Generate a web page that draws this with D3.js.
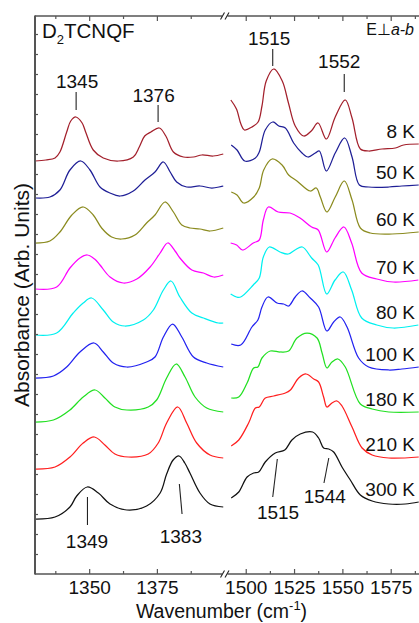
<!DOCTYPE html>
<html>
<head>
<meta charset="utf-8">
<script src="https://cdn.jsdelivr.net/npm/d3@7"></script>
<style>
  html, body { margin: 0; padding: 0; background: #fff; }
  svg { display: block; font-family: "Liberation Sans", Arial, Helvetica, sans-serif; }
</style>
</head>
<body>
<svg id="chart" width="419" height="623"></svg>
<script>
// ---- Spectra: [wavenumber (cm^-1), absorbance incl. vertical offset (arb. units)] ----
const temperatures = ["8 K", "50 K", "60 K", "70 K", "80 K", "100 K", "180 K", "210 K", "300 K"];

// 1330-1400 cm^-1 window
const left8K = [[1330,4.13],[1334,4.14],[1337.4,4.16],[1339.2,4.22],[1341.7,4.42],[1343.2,4.53],[1345.1,4.57],[1347.4,4.51],[1348.7,4.42],[1351.5,4.24],[1355.2,4.16],[1360.8,4.13],[1366.3,4.17],[1368.5,4.27],[1370.5,4.38],[1372.8,4.42],[1375.9,4.46],[1378.3,4.38],[1381.1,4.22],[1384.8,4.17],[1388.5,4.17],[1391.6,4.19],[1395.8,4.18],[1399.5,4.20]];
const left50K = [[1330,3.76],[1335.5,3.77],[1339.2,3.84],[1342.9,4.04],[1346.9,4.13],[1350.3,4.04],[1354,3.87],[1357.7,3.81],[1361.4,3.78],[1366.3,3.83],[1370.6,3.94],[1374.3,4.02],[1377.4,4.12],[1379.9,4.02],[1382.3,3.92],[1386,3.87],[1390.9,3.88],[1395.3,3.86],[1399.5,3.88]];
const left60K = [[1330,3.31],[1335.5,3.33],[1339.2,3.42],[1343.6,3.59],[1347.8,3.67],[1351.5,3.59],[1354.6,3.46],[1358.3,3.37],[1362,3.35],[1366.9,3.39],[1371.2,3.51],[1374.3,3.59],[1378,3.72],[1381.1,3.62],[1384.2,3.49],[1387.2,3.46],[1390.9,3.45],[1394.6,3.43],[1399.5,3.46]];
const left70K = [[1330,2.85],[1338,2.87],[1342.9,3.06],[1346.6,3.16],[1349.3,3.19],[1352,3.15],[1354,3.09],[1357.7,2.97],[1362.6,2.91],[1367.6,2.95],[1372.5,3.07],[1376.2,3.21],[1379,3.31],[1381.7,3.23],[1383.5,3.16],[1387.9,3.04],[1392.2,3.01],[1396,2.97],[1399.5,2.99]];
const left80K = [[1330,2.39],[1338,2.41],[1344.1,2.61],[1347.8,2.71],[1350.9,2.76],[1355.2,2.64],[1358.9,2.52],[1363.2,2.48],[1370,2.54],[1373.7,2.64],[1377.4,2.84],[1380.2,2.93],[1383.5,2.77],[1387.9,2.61],[1392.2,2.56],[1397.7,2.51],[1399.5,2.51]];
const left100K = [[1330,1.96],[1336.8,1.98],[1341.7,2.07],[1346.6,2.22],[1351.8,2.31],[1355.2,2.22],[1358.9,2.11],[1363.9,2.07],[1371.2,2.12],[1374.3,2.17],[1377.4,2.37],[1380.8,2.50],[1384.2,2.37],[1388.5,2.17],[1393.4,2.11],[1399.5,2.07]];
const left180K = [[1330,1.52],[1336.8,1.54],[1342.9,1.64],[1347.8,1.77],[1352.2,1.84],[1355.8,1.76],[1359.5,1.67],[1363.9,1.64],[1371.8,1.67],[1374.9,1.74],[1378.6,1.96],[1382.1,2.10],[1385.4,1.97],[1389.1,1.77],[1393.4,1.66],[1399.5,1.62]];
const left210K = [[1330,1.05],[1337.4,1.07],[1342.9,1.17],[1347.8,1.31],[1351.9,1.37],[1355.8,1.29],[1359.5,1.20],[1364.5,1.17],[1371.8,1.20],[1375.5,1.31],[1378.6,1.51],[1382.7,1.67],[1386,1.51],[1389.7,1.31],[1394.6,1.19],[1399.5,1.16]];
const left300K = [[1330,0.55],[1337.4,0.57],[1342.9,0.67],[1345.4,0.78],[1349.3,0.87],[1353.4,0.81],[1357.7,0.70],[1363.9,0.64],[1371.2,0.68],[1376.2,0.81],[1378.6,1.00],[1381,1.14],[1383.2,1.18],[1385.3,1.11],[1387.2,1.01],[1390.9,0.81],[1394.6,0.70],[1399.5,0.67]];

// 1490-1590 cm^-1 window
const right8K = [[1492.3,4.74],[1495.2,4.65],[1497.5,4.50],[1499.3,4.44],[1503.2,4.47],[1506.4,4.52],[1508.4,4.68],[1510.6,4.93],[1514.5,5.05],[1518.9,4.93],[1522.1,4.71],[1525.6,4.48],[1530,4.38],[1533.9,4.43],[1537.4,4.51],[1541.7,4.35],[1546.3,4.57],[1551.5,4.74],[1555,4.56],[1559.3,4.25],[1563.6,4.23],[1570.5,4.25],[1577.4,4.26],[1581.7,4.29],[1589.5,4.30]];
const right50K = [[1492.5,4.29],[1495.5,4.24],[1499.5,4.13],[1505,4.16],[1507,4.22],[1510.1,4.44],[1514,4.52],[1517.1,4.48],[1520.5,4.46],[1524.8,4.31],[1529.1,4.21],[1532.2,4.17],[1536,4.21],[1538.1,4.23],[1541.7,4.03],[1546.3,4.21],[1551.2,4.36],[1555,4.17],[1558.8,3.89],[1563.6,3.87],[1574,3.87],[1580.8,3.88],[1589.5,3.89]];
const right60K = [[1492.5,3.82],[1495.5,3.79],[1498.9,3.71],[1504.1,3.77],[1507,3.86],[1509.3,4.04],[1513.6,4.15],[1518.8,4.09],[1522.2,3.99],[1526.5,3.93],[1533.4,3.83],[1536.5,3.86],[1538.6,3.77],[1542,3.62],[1546.3,3.77],[1551,3.93],[1555,3.74],[1559.3,3.46],[1564.4,3.41],[1575.7,3.40],[1589.5,3.42]];
const right70K = [[1492.2,3.31],[1495.3,3.29],[1498.4,3.24],[1503.9,3.31],[1507,3.34],[1509.1,3.54],[1511.7,3.67],[1516.8,3.62],[1522.9,3.61],[1528.1,3.56],[1534.1,3.47],[1537.5,3.44],[1541.9,3.22],[1546.2,3.36],[1550.8,3.47],[1554.8,3.31],[1560,3.01],[1567.8,2.95],[1576.3,2.92],[1589.3,2.94]];
const right80K = [[1492.2,2.80],[1495.3,2.77],[1497.4,2.77],[1503.9,2.89],[1507,2.96],[1509.1,3.17],[1512.2,3.27],[1517.7,3.22],[1522,3.20],[1525.5,3.24],[1529.3,3.27],[1534.1,3.16],[1537.5,3.09],[1541.9,2.80],[1546.2,2.94],[1550.5,3.02],[1554.8,2.84],[1560,2.56],[1567.8,2.49],[1576.3,2.46],[1589.3,2.49]];
const right100K = [[1492.5,2.30],[1497.4,2.29],[1503.2,2.47],[1506.3,2.54],[1508.4,2.67],[1511.5,2.77],[1516.2,2.71],[1519.6,2.70],[1522.2,2.68],[1525.6,2.77],[1529.1,2.83],[1533.4,2.76],[1537.7,2.67],[1542,2.43],[1545.5,2.52],[1548.9,2.57],[1552.4,2.47],[1558.4,2.16],[1563.6,2.07],[1574,2.04],[1580.8,2.05],[1589.5,2.07]];
const right180K = [[1492.5,1.76],[1496.4,1.77],[1500.7,1.91],[1504.1,2.06],[1506.3,2.07],[1508.4,2.16],[1512.7,2.23],[1517.9,2.22],[1522.2,2.23],[1526.5,2.36],[1531.7,2.41],[1536.9,2.36],[1539.5,2.21],[1542,2.06],[1544.6,2.12],[1547.7,2.15],[1551.5,2.07],[1559.3,1.70],[1565.4,1.65],[1574,1.62],[1589.5,1.62]];
const right210K = [[1492.5,1.28],[1496.4,1.34],[1501.5,1.51],[1505,1.66],[1507,1.67],[1510.1,1.76],[1514.5,1.78],[1520.5,1.81],[1523.1,1.84],[1527.4,1.96],[1531.2,2.00],[1535.2,1.95],[1537.7,1.92],[1540.3,1.77],[1542,1.67],[1544.6,1.71],[1547.2,1.73],[1549.8,1.68],[1555,1.47],[1560.2,1.26],[1565.4,1.19],[1574,1.16],[1589.5,1.17]];
const right300K = [[1492.5,0.76],[1496.4,0.82],[1500.7,0.97],[1504.1,1.01],[1506.7,1.02],[1510.1,1.12],[1515.3,1.21],[1520.2,1.24],[1523.9,1.34],[1528.2,1.40],[1534.6,1.42],[1537.7,1.36],[1540.3,1.26],[1542.9,1.25],[1545.5,1.22],[1549.8,1.07],[1554.1,0.94],[1559.3,0.79],[1565.4,0.73],[1574,0.70],[1582.6,0.70],[1589.5,0.72]];

const leftSpectra  = [left8K, left50K, left60K, left70K, left80K, left100K, left180K, left210K, left300K];
const rightSpectra = [right8K, right50K, right60K, right70K, right80K, right100K, right180K, right210K, right300K];

// Axis ticks
const majorTicksLeft  = [1350, 1375];
const minorTicksLeft  = [1337.5, 1362.5, 1387.5];
const majorTicksRight = [1500, 1525, 1550, 1575];
const minorTicksRight = [1512.5, 1537.5, 1562.5, 1587.5];

// Line colours per temperature
const lineColors = ["#a3202c", "#1f1f96", "#8b8b1f", "#ff00ff", "#00f0f0", "#2222f0", "#22e022", "#ff1f1f", "#111111"];

// ---- Layout ----
const svg = d3.select("#chart");
const frame = { left: 35, top: 16, bottom: 574, breakL: 222, breakR: 227.5 };
const axisColor = "#555";

const xL = d3.scaleLinear().domain([1330, 1400]).range([35, 224.6]);
const xR = d3.scaleLinear().domain([1490, 1590]).range([226.4, 419.7]);
const y  = d3.scaleLinear().domain([0, 5.58]).range([frame.bottom, frame.top]);

// Spectra
const line = (xs) => d3.line().x(d => xs(d[0])).y(d => y(d[1])).curve(d3.curveCatmullRom.alpha(0.5));
const gLines = svg.append("g").attr("fill", "none").attr("stroke-width", 1.25).attr("stroke-linejoin", "round");
temperatures.forEach((t, i) => {
  gLines.append("path").attr("d", line(xL)(leftSpectra[i])).attr("stroke", lineColors[i]);
  gLines.append("path").attr("d", line(xR)(rightSpectra[i])).attr("stroke", lineColors[i]);
});

// Temperature labels, just above the right-hand end of each spectrum
const gTemp = svg.append("g").attr("font-size", 19).attr("fill", "#111").attr("text-anchor", "end");
temperatures.forEach((t, i) => {
  const last = rightSpectra[i][rightSpectra[i].length - 1];
  gTemp.append("text").attr("x", 415).attr("y", y(last[1]) - 6).text(t);
});

// Axes: ticks from d3 axis generators, frame lines drawn separately for the break
function styleAxis(g) {
  g.select(".domain").remove();
  g.selectAll(".tick line").attr("stroke", axisColor).attr("stroke-width", 1.2);
  g.selectAll(".tick text").attr("fill", "#111").attr("font-size", 19).attr("font-family", "Liberation Sans, Arial, sans-serif");
}
[[xL, majorTicksLeft, minorTicksLeft], [xR, majorTicksRight, minorTicksRight]].forEach(([xs, maj, min]) => {
  svg.append("g").attr("transform", `translate(0,${frame.bottom})`)
    .call(d3.axisBottom(xs).tickValues(maj).tickSize(-5).tickPadding(7).tickFormat(d3.format("d"))).call(styleAxis);
  svg.append("g").attr("transform", `translate(0,${frame.bottom})`)
    .call(d3.axisBottom(xs).tickValues(min).tickSize(-3).tickFormat("")).call(styleAxis);
  svg.append("g").attr("transform", `translate(0,${frame.top})`)
    .call(d3.axisTop(xs).tickValues(maj).tickSize(-5).tickFormat("")).call(styleAxis);
  svg.append("g").attr("transform", `translate(0,${frame.top})`)
    .call(d3.axisTop(xs).tickValues(min).tickSize(-3).tickFormat("")).call(styleAxis);
});
svg.append("g").attr("transform", `translate(${frame.left},0)`)
  .call(d3.axisLeft(y).tickValues(d3.range(0.2, 5.5, 0.2)).tickSize(-3).tickFormat("")).call(styleAxis);

const gFrame = svg.append("g").attr("stroke", axisColor).attr("fill", "none");
gFrame.append("line").attr("x1", frame.left).attr("x2", frame.left).attr("y1", frame.top - 0.5).attr("y2", frame.bottom + 0.5).attr("stroke-width", 2);
[frame.top, frame.bottom].forEach(yy => {
  gFrame.append("line").attr("x1", frame.left).attr("x2", frame.breakL).attr("y1", yy).attr("y2", yy).attr("stroke-width", 1.5);
  gFrame.append("line").attr("x1", frame.breakR).attr("x2", 419).attr("y1", yy).attr("y2", yy).attr("stroke-width", 1.5);
  [220.5, 225].forEach(bx => {
    gFrame.append("line").attr("x1", bx).attr("y1", yy + 3.5).attr("x2", bx + 4).attr("y2", yy - 3.5)
      .attr("stroke", "#222").attr("stroke-width", 1.1);
  });
});

// Axis titles
const xTitle = svg.append("text").attr("x", 221.5).attr("y", 618).attr("text-anchor", "middle")
  .attr("font-size", 19.5).attr("fill", "#111");
xTitle.append("tspan").text("Wavenumber (cm");
xTitle.append("tspan").attr("font-size", 13).attr("dy", -8).text("-1");
xTitle.append("tspan").attr("dy", 8).text(")");

svg.append("text").attr("transform", "translate(29,295) rotate(-90)").attr("text-anchor", "middle")
  .attr("font-size", 21).attr("fill", "#111").text("Absorbance (Arb. Units)");

// Sample name and polarisation
const title = svg.append("text").attr("x", 42).attr("y", 38).attr("font-size", 20.5).attr("fill", "#111");
title.append("tspan").text("D");
title.append("tspan").attr("font-size", 13).attr("dy", 6).text("2");
title.append("tspan").attr("dy", -6).text("TCNQF");

const pol = svg.append("text").attr("x", 414).attr("y", 34.5).attr("text-anchor", "end").attr("font-size", 16).attr("fill", "#111");
pol.append("tspan").text("E\u22A5");
pol.append("tspan").attr("font-style", "italic").text("a-b");

// Peak assignments: leader line and wavenumber label
const peakNotes = [
  { wn: 1345, xs: xL, l1: [0.5, 92], l2: [0.5, 110], t: [1.5, 88] },
  { wn: 1376, xs: xL, l1: [-1.5, 105], l2: [-1.5, 122], t: [-6, 102] },
  { wn: 1515, xs: xR, l1: [-2, 49], l2: [-2, 66], t: [-5.5, 45] },
  { wn: 1552, xs: xR, l1: [-2, 74], l2: [-2, 92], t: [-7, 68] },
  { wn: 1349, xs: xL, l1: [1, 497], l2: [1, 525], t: [0.5, 548] },
  { wn: 1383, xs: xL, l1: [0.8, 484], l2: [3.5, 514], t: [2.3, 543] },
  { wn: 1515, xs: xR, l1: [2.6, 459], l2: [-2, 497], t: [3.3, 519] },
  { wn: 1544, xs: xR, l1: [-2, 458], l2: [-6.8, 483], t: [-6, 502.5] }
];
const gNotes = svg.append("g");
peakNotes.forEach(p => {
  const x0 = p.xs(p.wn);
  gNotes.append("line").attr("x1", x0 + p.l1[0]).attr("y1", p.l1[1]).attr("x2", x0 + p.l2[0]).attr("y2", p.l2[1])
    .attr("stroke", "#222").attr("stroke-width", 1.1);
  gNotes.append("text").attr("x", x0 + p.t[0]).attr("y", p.t[1]).attr("text-anchor", "middle")
    .attr("font-size", 19).attr("fill", "#111").text(p.wn);
});
</script>
</body>
</html>
